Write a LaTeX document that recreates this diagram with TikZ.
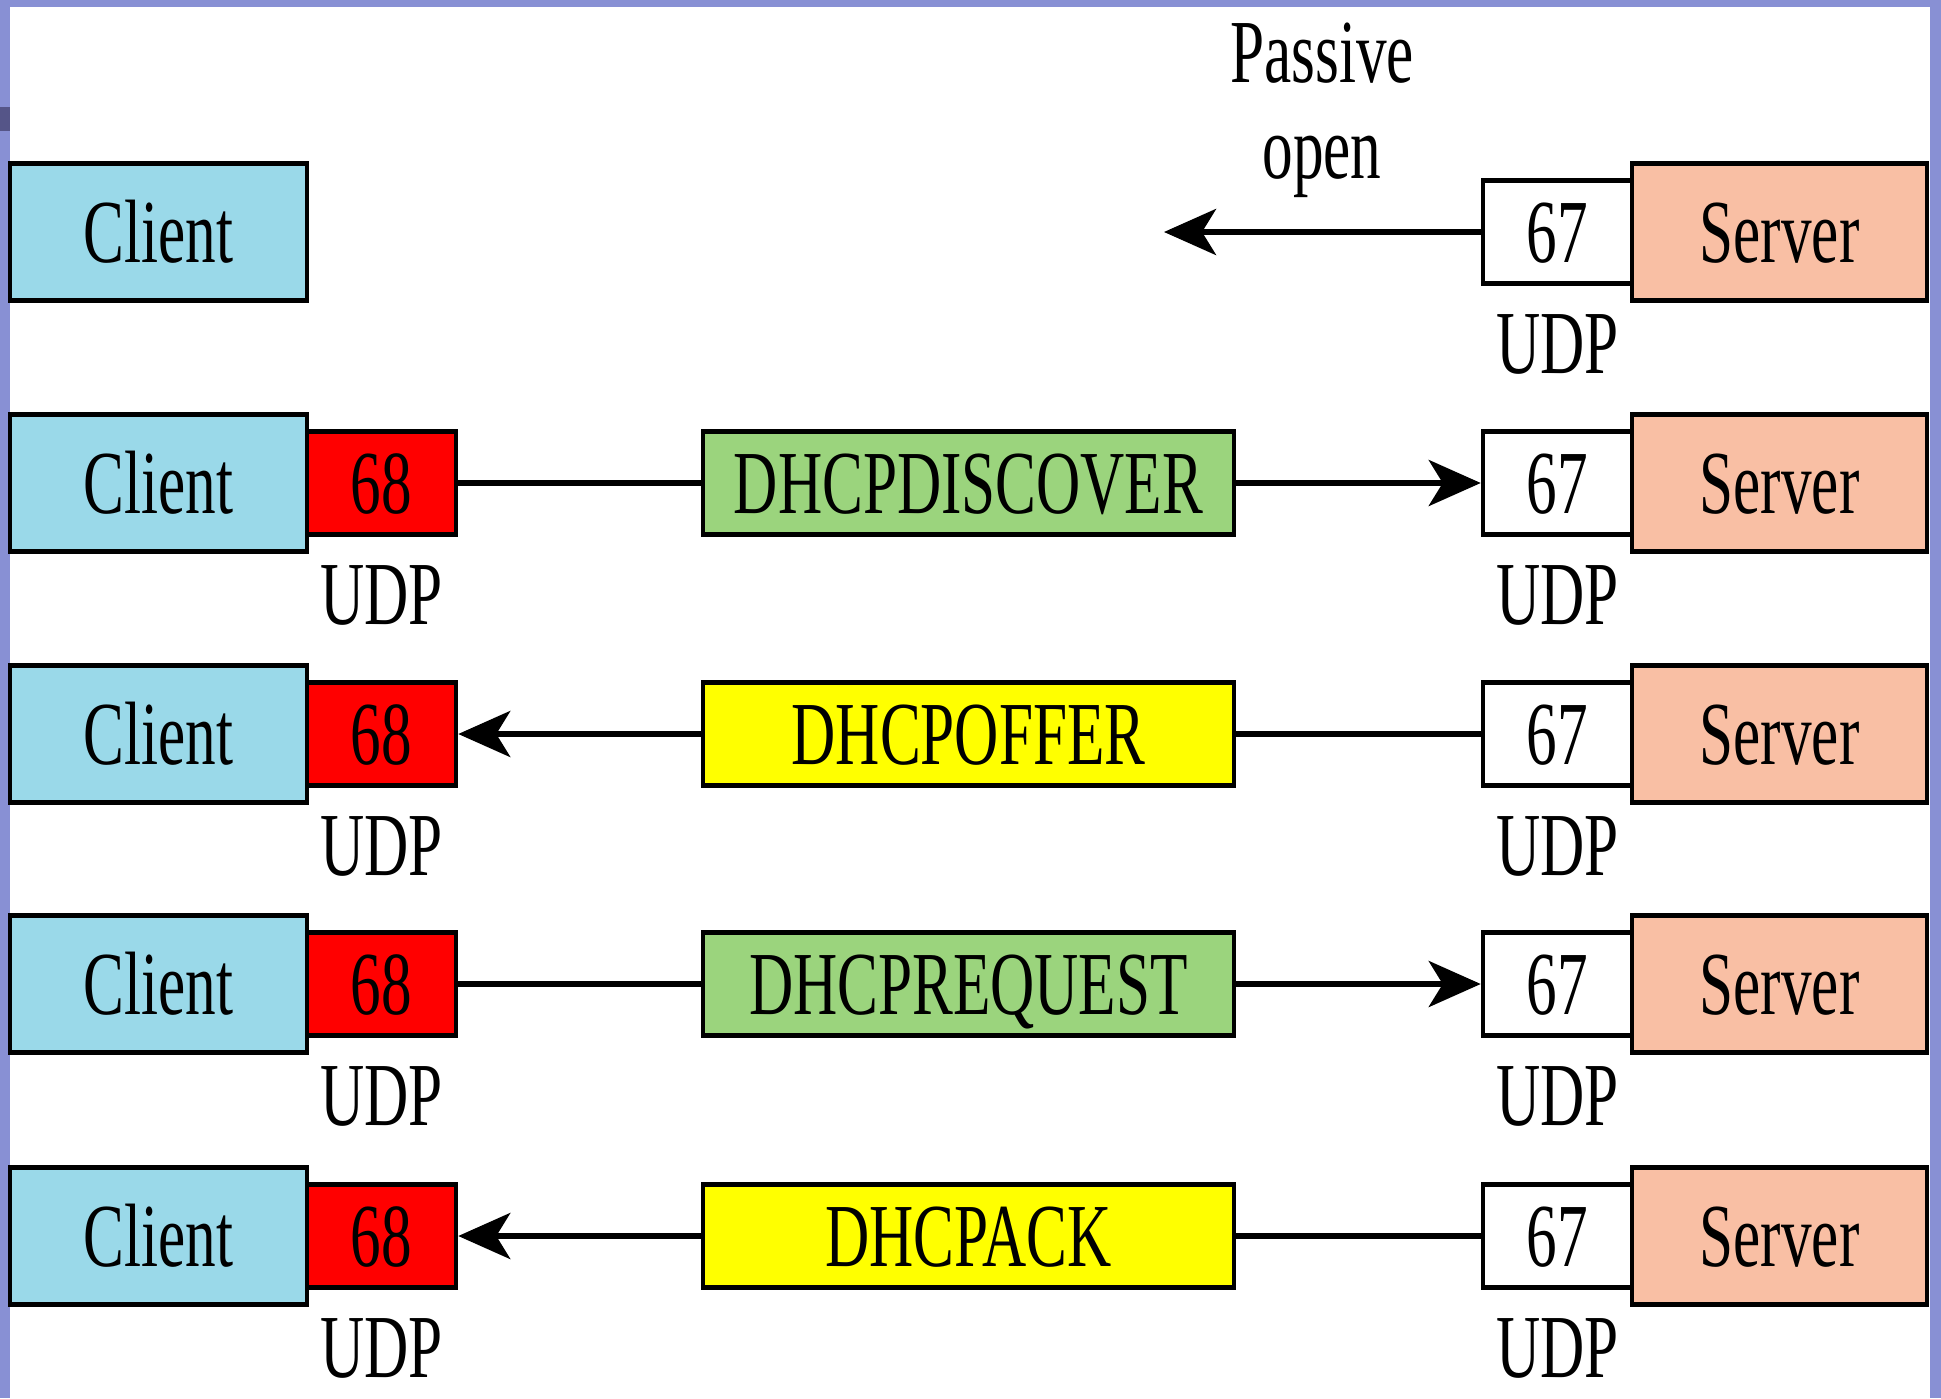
\documentclass[tikz,border=0pt]{standalone}
\usepackage{fontspec}
\setmainfont{Liberation Serif}[FakeStretch=0.68]
\usetikzlibrary{arrows.meta}
\definecolor{frameblue}{HTML}{8890D4}
\definecolor{framedark}{HTML}{555588}
\definecolor{clientblue}{HTML}{9AD9E9}
\definecolor{portred}{HTML}{FF0000}
\definecolor{msggreen}{HTML}{9BD47D}
\definecolor{msgyellow}{HTML}{FFFF00}
\definecolor{serversalmon}{HTML}{F9BFA4}
\begin{document}
\begin{tikzpicture}[x=1pt,y=-1pt,
  bigfont/.style={font=\fontsize{90}{96}\selectfont},
  lbl/.style={bigfont,inner sep=0pt,text height=60pt,text depth=0pt},
  box/.style={lbl,draw=black,line width=4.5pt},
  clientbox/.style={box,fill=clientblue,minimum width=297pt,minimum height=137pt},
  serverbox/.style={box,fill=serversalmon,minimum width=295pt,minimum height=137pt},
  cport/.style={box,fill=portred,minimum width=149pt,minimum height=103pt},
  sport/.style={box,fill=white,minimum width=149pt,minimum height=103pt},
  msgbox/.style={box,minimum width=531pt,minimum height=103pt},
  conn/.style={line width=6pt},
  arr/.style={conn,-{Stealth[length=52pt,width=46pt,inset=14pt]}}
]
\useasboundingbox (0,0) rectangle (1941,1398);
\fill[frameblue] (0,0) rectangle (1941,1398);
\fill[white] (10,7) rectangle (1930,1398);
\fill[framedark] (0,107) rectangle (10,131);

% row 0: passive open
\node[clientbox] (c0) at (158.5,232) {Client};
\node[serverbox] (s0) at (1779.5,232) {Server};
\node[sport] (q0) at (1557.5,232) {67};
\node[lbl] (u0) at (1557.5,343) {UDP};
\node[lbl] (pas) at (1322,52) {Passive};
\node[lbl] (opn) at (1322,148) {open};
\coordinate (e0) at (1164,232);
\draw[arr] (q0.west) -- (e0);

\foreach \r/\yy/\msg/\col in {1/483/DHCPDISCOVER/msggreen,2/734/DHCPOFFER/msgyellow,3/984/DHCPREQUEST/msggreen,4/1236/DHCPACK/msgyellow}{
  \node[clientbox] (c\r) at (158.5,\yy) {Client};
  \node[cport] (p\r) at (381.5,\yy) {68};
  \node[lbl] (ul\r) at (381.5,\yy+111) {UDP};
  \node[msgbox,fill=\col] (m\r) at (968.5,\yy) {\msg};
  \node[serverbox] (s\r) at (1779.5,\yy) {Server};
  \node[sport] (q\r) at (1557.5,\yy) {67};
  \node[lbl] (ur\r) at (1557.5,\yy+111) {UDP};
}

\draw[conn] (p1.east) -- (m1.west);
\draw[arr] (m1.east) -- (q1.west);
\draw[conn] (q2.west) -- (m2.east);
\draw[arr] (m2.west) -- (p2.east);
\draw[conn] (p3.east) -- (m3.west);
\draw[arr] (m3.east) -- (q3.west);
\draw[conn] (q4.west) -- (m4.east);
\draw[arr] (m4.west) -- (p4.east);
\end{tikzpicture}
\end{document}
